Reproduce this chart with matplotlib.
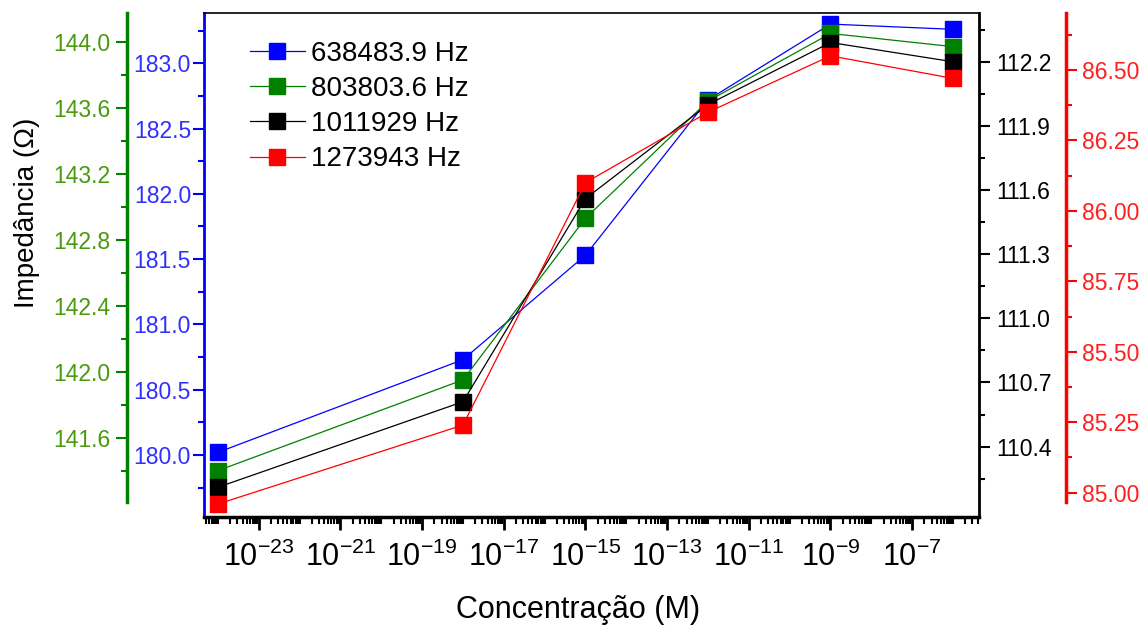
import numpy as np
import matplotlib
matplotlib.use('Agg')
import matplotlib.pyplot as plt
from matplotlib.ticker import (FixedLocator, MultipleLocator, FormatStrFormatter,
                               FuncFormatter, NullFormatter)

plt.rcParams['font.family'] = ['Liberation Sans', 'DejaVu Sans']
plt.rcParams['mathtext.fontset'] = 'custom'
plt.rcParams['mathtext.rm'] = 'Liberation Sans'
plt.rcParams['mathtext.it'] = 'Liberation Sans'

conc = [1e-24, 1e-18, 1e-15, 1e-12, 1e-9, 1e-6]
z_638k = [180.02, 180.73, 181.53, 182.72, 183.30, 183.26]
z_803k = [141.40, 141.95, 142.93, 143.64, 144.05, 143.97]
z_1011k = [110.21, 110.61, 111.56, 112.00, 112.29, 112.20]
z_1273k = [84.96, 85.24, 86.10, 86.35, 86.55, 86.47]
labels = ['638483.9 Hz', '803803.6 Hz', '1011929 Hz', '1273943 Hz']

green_ticks = [141.6, 142.0, 142.4, 142.8, 143.2, 143.6, 144.0]
black_ticks = [110.4, 110.7, 111.0, 111.3, 111.6, 111.9, 112.2]

fig = plt.figure(figsize=(11.42, 6.28), dpi=100)
ax = fig.add_axes([0.1782, 0.1768, 0.6795, 0.8025])
ax_g = ax.twinx()
ax_k = ax.twinx()
ax_r = ax.twinx()

ms = 12
lw = 0.9
l1, = ax.plot(conc, z_638k, '-s', color='blue', ms=ms, lw=lw, mec='blue')
l2, = ax_g.plot(conc, z_803k, '-s', color='green', ms=ms, lw=lw, mec='green')
l3, = ax_k.plot(conc, z_1011k, '-s', color='black', ms=ms, lw=lw, mec='black')
l4, = ax_r.plot(conc, z_1273k, '-s', color='red', ms=ms, lw=lw, mec='red')

# x axis: log scale, labels every other decade
xlo, xhi = 10**-24.355, 10**-5.351
ax.set_xscale('log')
ax.set_xlim(xlo, xhi)
major = [10.0**e for e in range(-23, -6, 2)]
minor = [k * 10.0**e for e in range(-25, -5) for k in range(1, 10)
         if not (k == 1 and e % 2 == 1)]
ax.xaxis.set_major_locator(FixedLocator(major))
ax.xaxis.set_minor_locator(FixedLocator(minor))
ax.xaxis.set_major_formatter(FuncFormatter(lambda v, p: r'$10^{%d}$' % round(np.log10(v))))
ax.xaxis.set_minor_formatter(NullFormatter())
ax.tick_params(axis='x', which='major', direction='out', length=9, width=2,
               labelsize=22, pad=9)
ax.tick_params(axis='x', which='minor', direction='out', length=5, width=1.5)

for a in (ax, ax_g, ax_k, ax_r):
    a.set_xlim(xlo, xhi)
    for s in a.spines.values():
        s.set_visible(False)

ax.spines['bottom'].set_visible(True)
ax.spines['bottom'].set_linewidth(2.5)
ax.spines['top'].set_visible(True)
ax.spines['top'].set_linewidth(1.2)

# blue axis (inner left)
ax.set_ylim(179.525, 183.385)
ax.spines['left'].set_visible(True)
ax.spines['left'].set_color('blue')
ax.spines['left'].set_linewidth(2)
ax.yaxis.set_major_locator(MultipleLocator(0.5))
ax.yaxis.set_minor_locator(MultipleLocator(0.25))
ax.yaxis.set_major_formatter(FormatStrFormatter('%.1f'))
ax.tick_params(axis='y', which='major', colors='blue', length=8, width=1.5,
               labelsize=16.5, labelcolor='#3030ff', pad=1)
ax.tick_params(axis='y', which='minor', colors='blue', length=4, width=1.5)

# green axis (outer left)
ax_g.set_ylim(141.119, 144.174)
ax_g.yaxis.set_ticks_position('left')
ax_g.spines['left'].set_visible(True)
ax_g.spines['left'].set_position(('axes', -0.099))
ax_g.spines['left'].set_bounds(141.212, 144.174)
ax_g.spines['left'].set_color('green')
ax_g.spines['left'].set_linewidth(2.5)
ax_g.yaxis.set_major_locator(FixedLocator(green_ticks))
ax_g.yaxis.set_minor_locator(FixedLocator([141.4, 141.8, 142.2, 142.6, 143.0, 143.4, 143.8]))
ax_g.yaxis.set_major_formatter(FormatStrFormatter('%.1f'))
ax_g.tick_params(axis='y', which='major', colors='green', length=8, width=1.5,
                 labelsize=16.5, labelcolor='#4a9a10', pad=4)
ax_g.tick_params(axis='y', which='minor', colors='green', length=4, width=1.5)

# black axis (inner right)
ax_k.set_ylim(110.071, 112.428)
ax_k.spines['right'].set_visible(True)
ax_k.spines['right'].set_linewidth(2)
ax_k.yaxis.set_major_locator(FixedLocator(black_ticks))
ax_k.yaxis.set_minor_locator(FixedLocator([110.25, 110.55, 110.85, 111.15, 111.45,
                                           111.75, 112.05, 112.35]))
ax_k.yaxis.set_major_formatter(FormatStrFormatter('%.1f'))
ax_k.tick_params(axis='y', which='major', colors='black', length=8, width=1.5,
                 labelsize=16.5, pad=4)
ax_k.tick_params(axis='y', which='minor', colors='black', length=4, width=1.5)

# red axis (outer right)
ax_r.set_ylim(84.914, 86.702)
ax_r.spines['right'].set_visible(True)
ax_r.spines['right'].set_position(('axes', 1.111))
ax_r.spines['right'].set_bounds(84.967, 86.702)
ax_r.spines['right'].set_color('red')
ax_r.spines['right'].set_linewidth(2.5)
ax_r.yaxis.set_major_locator(MultipleLocator(0.25))
ax_r.yaxis.set_minor_locator(FixedLocator([85.125, 85.375, 85.625, 85.875, 86.125,
                                           86.375, 86.625]))
ax_r.yaxis.set_major_formatter(FormatStrFormatter('%.2f'))
ax_r.tick_params(axis='y', which='major', colors='red', length=8, width=1.5,
                 labelsize=16.5, labelcolor='#ff2020', pad=4)
ax_r.tick_params(axis='y', which='minor', colors='red', length=4, width=1.5)

ax_r.legend([l1, l2, l3, l4], labels, loc='upper left', bbox_to_anchor=(0.045, 0.967),
            frameon=False, fontsize=20, handlelength=2.0, handletextpad=0.2,
            labelspacing=0.33, borderaxespad=0)

fig.text(27 / 1142, 1 - 213 / 628, 'Impedância (Ω)', rotation=90, fontsize=20,
         ha='center', va='center')
fig.text(578 / 1142, 1 - 610 / 628, 'Concentração (M)', fontsize=22,
         ha='center', va='center')

fig.savefig('out.png', dpi=100)
